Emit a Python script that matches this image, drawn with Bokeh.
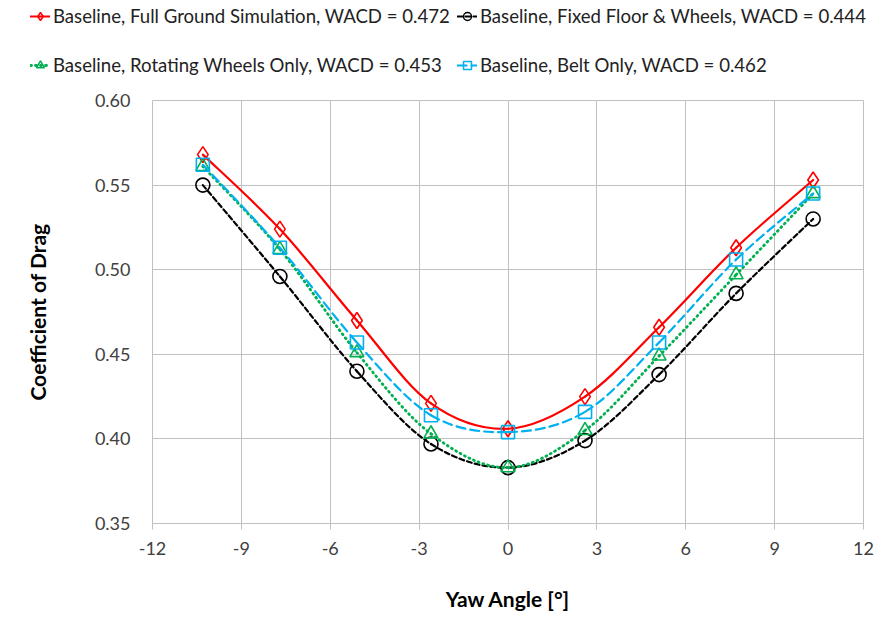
from bokeh.plotting import figure
from bokeh.layouts import column
from bokeh.models import Legend, LegendItem, FixedTicker, PrintfTickFormatter
from bokeh.embed import file_html
from bokeh.resources import INLINE

# ---- data ----
yaw = [-10.3, -7.7, -5.1, -2.6, 0.0, 2.6, 5.1, 7.7, 10.3]
full_ground = [0.568, 0.524, 0.470, 0.421, 0.406, 0.425, 0.466, 0.513, 0.553]
fixed_floor = [0.550, 0.496, 0.440, 0.397, 0.383, 0.399, 0.438, 0.486, 0.530]
rot_wheels = [0.561, 0.512, 0.451, 0.403, 0.383, 0.405, 0.449, 0.497, 0.545]
belt_only = [0.562, 0.513, 0.457, 0.414, 0.404, 0.416, 0.457, 0.506, 0.545]

labels = [
    "Baseline, Full Ground Simulation, WACD = 0.472",
    "Baseline, Fixed Floor & Wheels, WACD = 0.444",
    "Baseline, Rotating Wheels Only, WACD = 0.453",
    "Baseline, Belt Only, WACD = 0.462",
]
x_ticks = [-12, -9, -6, -3, 0, 3, 6, 9, 12]
y_ticks = [0.35, 0.40, 0.45, 0.50, 0.55, 0.60]

FONT = "Lato"

p = figure(width=885, height=530, output_backend="svg", toolbar_location=None,
           x_range=(-12, 12), y_range=(0.35, 0.60),
           min_border_left=152, min_border_right=22, min_border_top=10,
           min_border_bottom=97)
p.frame_align = False

p.xgrid.grid_line_color = "#c0c0c0"
p.ygrid.grid_line_color = "#c0c0c0"
p.outline_line_color = "#c0c0c0"
p.xaxis.ticker = FixedTicker(ticks=x_ticks)
p.yaxis.ticker = FixedTicker(ticks=y_ticks)
p.xaxis.formatter = PrintfTickFormatter(format="%d")
p.yaxis.formatter = PrintfTickFormatter(format="%.2f")
p.xaxis.minor_tick_line_color = None
p.yaxis.minor_tick_line_color = None
p.yaxis.axis_line_color = None
p.yaxis.major_tick_line_color = None
p.yaxis.major_tick_in = 0
p.yaxis.major_tick_out = 0
p.yaxis.major_label_standoff = 22
p.xaxis.axis_line_color = "#c0c0c0"
p.xaxis.major_tick_line_color = "#c0c0c0"
p.xaxis.major_tick_in = 0
p.xaxis.major_tick_out = 6
p.xaxis.major_label_standoff = 12
for ax in (p.xaxis, p.yaxis):
    ax.major_label_text_font = FONT
    ax.major_label_text_font_size = "18px"
    ax.major_label_text_color = "#404040"
    ax.axis_label_text_font = FONT
    ax.axis_label_text_font_size = "21px"
    ax.axis_label_text_font_style = "bold"
    ax.axis_label_text_color = "#000000"
p.xaxis.axis_label = "Yaw Angle [°]"
p.yaxis.axis_label = "Coefficient of Drag"
p.xaxis.axis_label_standoff = 28
p.yaxis.axis_label_standoff = 42


def bez(xs, ys):
    n = len(xs)
    x0, y0, x1, y1, cx0, cy0, cx1, cy1 = [], [], [], [], [], [], [], []
    for i in range(n - 1):
        im = max(i - 1, 0)
        ip = min(i + 2, n - 1)
        x0.append(xs[i]); y0.append(ys[i])
        x1.append(xs[i + 1]); y1.append(ys[i + 1])
        cx0.append(xs[i] + (xs[i + 1] - xs[im]) / 6.0)
        cy0.append(ys[i] + (ys[i + 1] - ys[im]) / 6.0)
        cx1.append(xs[i + 1] - (xs[ip] - xs[i]) / 6.0)
        cy1.append(ys[i + 1] - (ys[ip] - ys[i]) / 6.0)
    return dict(x0=x0, y0=y0, x1=x1, y1=y1, cx0=cx0, cy0=cy0, cx1=cx1, cy1=cy1)


series = [
    (full_ground, "#ff0000", "solid", "diamond", 16, 2.2),
    (fixed_floor, "#000000", "5 3", "circle", 14, 2.2),
    (rot_wheels, "#00b050", "1 4", "triangle", 14, 2.8),
    (belt_only, "#00b0f0", "9 5", "square", 13, 2.2),
]

# legend strip: a separate figure without axes; its glyphs use the real data
# but lie outside its (dummy) ranges, so only the legend shows.
lf = figure(width=885, height=90, output_backend="svg", toolbar_location=None,
            x_range=(100, 101), y_range=(100, 101), min_border=0,
            x_axis_location=None, y_axis_location=None)
lf.frame_align = False
lf.grid.visible = False
lf.outline_line_color = None

items = []
for (ys, col, dash, mk, sz, lw), lab in zip(series, labels):
    p.bezier(line_color=col, line_width=lw, line_dash=dash, line_cap="round",
             **bez(yaw, ys))
    p.scatter(yaw, ys, marker=mk, size=sz, line_color=col, line_width=1.6,
              fill_color=None)
    lb = lf.bezier(line_color=col, line_width=lw, line_dash=dash,
                   line_cap="round", **bez(yaw, ys))
    ls = lf.scatter(yaw, ys, marker=mk, size=sz - 3, line_color=col,
                    line_width=1.5, fill_color=None)
    items.append(LegendItem(label=lab, renderers=[lb, ls]))

leg1 = Legend(items=items[0:2], orientation="horizontal", location=(30, 63))
leg2 = Legend(items=items[2:4], orientation="horizontal", location=(30, 14))
for lg in (leg1, leg2):
    lg.border_line_color = None
    lg.background_fill_alpha = 0
    lg.label_text_font = FONT
    lg.label_text_font_size = "18.6px"
    lg.label_text_color = "#222222"
    lg.label_width = 398
    lg.label_height = 20
    lg.glyph_width = 20
    lg.glyph_height = 20
    lg.label_standoff = 3
    lg.spacing = 6
    lg.padding = 0
    lg.margin = 0
    lf.add_layout(lg, "center")

open("out.html", "w").write(file_html(column(lf, p, spacing=0), INLINE))
